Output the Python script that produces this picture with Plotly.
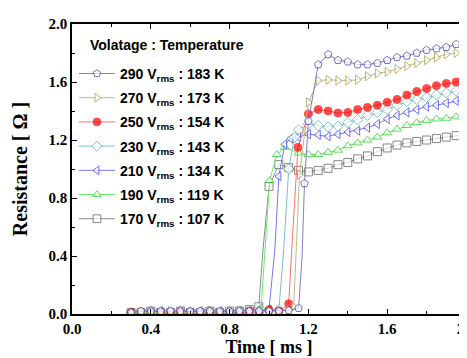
import plotly.graph_objects as go

# ---- data ----
labels = ["170 V<sub>rms</sub> : 107 K", "190 V<sub>rms</sub> : 119 K", "210 V<sub>rms</sub> : 134 K",
          "230 V<sub>rms</sub> : 143 K", "250 V<sub>rms</sub> : 154 K", "270 V<sub>rms</sub> : 173 K",
          "290 V<sub>rms</sub> : 183 K"]

t170 = [0.30, 0.35, 0.40, 0.45, 0.50, 0.55, 0.60, 0.65, 0.70, 0.75, 0.80, 0.85, 0.90,
        0.948, 0.97, 1.00, 1.05, 1.10, 1.15, 1.20, 1.25, 1.30, 1.35, 1.40, 1.45, 1.50, 1.55,
        1.60, 1.65, 1.70, 1.75, 1.80, 1.85, 1.90, 1.95, 2.00]
r170 = [0.01, 0.01, 0.02, 0.01, 0.01, 0.02, 0.01, 0.01, 0.02, 0.01, 0.02, 0.02, 0.03,
        0.05, 0.45, 0.88, 1.03, 1.01, 0.99, 0.98, 0.99, 1.005, 1.03, 1.045, 1.07, 1.09, 1.12,
        1.145, 1.165, 1.18, 1.19, 1.20, 1.21, 1.22, 1.23, 1.24]

t190 = [0.30, 0.35, 0.40, 0.45, 0.50, 0.55, 0.60, 0.65, 0.70, 0.75, 0.80, 0.85, 0.90,
        0.96, 0.98, 1.003, 1.04, 1.08, 1.15, 1.20, 1.25, 1.30, 1.35, 1.40, 1.45, 1.50, 1.55,
        1.60, 1.65, 1.70, 1.75, 1.80, 1.85, 1.90, 1.95, 2.00]
r190 = [0.01, 0.02, 0.01, 0.02, 0.01, 0.01, 0.02, 0.01, 0.02, 0.01, 0.02, 0.02, 0.02,
        0.04, 0.45, 0.92, 1.10, 1.15, 1.11, 1.10, 1.10, 1.115, 1.13, 1.16, 1.18, 1.20, 1.22,
        1.25, 1.275, 1.30, 1.32, 1.335, 1.345, 1.35, 1.36, 1.365]

t210 = [0.30, 0.35, 0.40, 0.45, 0.50, 0.55, 0.60, 0.65, 0.70, 0.75, 0.80, 0.85, 0.90, 0.95, 1.00,
        1.03, 1.05, 1.08, 1.11, 1.15, 1.20, 1.25, 1.30, 1.35, 1.40, 1.45, 1.50, 1.55,
        1.60, 1.65, 1.70, 1.75, 1.80, 1.85, 1.90, 1.95, 2.00]
r210 = [0.01, 0.01, 0.01, 0.02, 0.01, 0.01, 0.01, 0.02, 0.01, 0.02, 0.01, 0.02, 0.02, 0.02, 0.03,
        0.45, 0.95, 1.17, 1.21, 1.22, 1.24, 1.235, 1.225, 1.24, 1.255, 1.265, 1.285, 1.31,
        1.345, 1.37, 1.39, 1.41, 1.43, 1.44, 1.455, 1.47, 1.48]

t230 = [0.30, 0.35, 0.40, 0.45, 0.50, 0.55, 0.60, 0.65, 0.70, 0.75, 0.80, 0.85, 0.90, 0.95, 1.00, 1.05,
        1.075, 1.10, 1.13, 1.15, 1.20, 1.25, 1.30, 1.35, 1.40, 1.45, 1.50, 1.55,
        1.60, 1.65, 1.70, 1.75, 1.80, 1.85, 1.90, 1.95, 2.00]
r230 = [0.01, 0.01, 0.02, 0.01, 0.01, 0.02, 0.01, 0.01, 0.02, 0.01, 0.01, 0.02, 0.01, 0.02, 0.02, 0.03,
        0.45, 1.00, 1.22, 1.27, 1.31, 1.30, 1.29, 1.295, 1.32, 1.34, 1.37, 1.39,
        1.41, 1.44, 1.465, 1.48, 1.495, 1.51, 1.525, 1.54, 1.55]

t250 = [0.30, 0.35, 0.40, 0.45, 0.50, 0.55, 0.60, 0.65, 0.70, 0.75, 0.80, 0.85, 0.90, 0.95, 1.00, 1.05,
        1.10, 1.12, 1.147, 1.20, 1.25, 1.30, 1.35, 1.40, 1.45, 1.50, 1.55,
        1.60, 1.65, 1.70, 1.75, 1.80, 1.85, 1.90, 1.95, 2.00]
r250 = [0.01, 0.00, 0.01, 0.01, 0.00, 0.01, 0.01, 0.00, 0.01, 0.01, 0.01, 0.00, 0.02, 0.01, 0.03, 0.02,
        0.07, 0.55, 1.15, 1.38, 1.41, 1.40, 1.386, 1.39, 1.41, 1.425, 1.44,
        1.46, 1.48, 1.51, 1.535, 1.555, 1.575, 1.59, 1.60, 1.61]

t270 = [0.30, 0.35, 0.40, 0.45, 0.50, 0.55, 0.60, 0.65, 0.70, 0.75, 0.80, 0.85, 0.90, 0.95, 1.00, 1.05, 1.10,
        1.125, 1.14, 1.155, 1.20, 1.25, 1.30, 1.35, 1.40, 1.45, 1.50, 1.55,
        1.60, 1.65, 1.70, 1.75, 1.80, 1.85, 1.90, 1.95, 2.00]
r270 = [0.01, 0.01, 0.01, 0.01, 0.02, 0.01, 0.01, 0.01, 0.02, 0.01, 0.01, 0.02, 0.02, 0.02, 0.02, 0.02, 0.03,
        0.05, 0.50, 0.96, 1.46, 1.61, 1.615, 1.61, 1.61, 1.615, 1.64, 1.66,
        1.67, 1.69, 1.71, 1.73, 1.75, 1.77, 1.79, 1.80, 1.81]

t290 = [0.30, 0.35, 0.40, 0.45, 0.50, 0.55, 0.60, 0.65, 0.70, 0.75, 0.80, 0.85, 0.90, 0.95, 1.00, 1.05, 1.10,
        1.15, 1.168, 1.18, 1.20, 1.25, 1.30, 1.35, 1.40, 1.45, 1.50, 1.55,
        1.60, 1.65, 1.70, 1.75, 1.80, 1.85, 1.90, 1.95, 2.00]
r290 = [0.01, 0.02, 0.02, 0.02, 0.02, 0.02, 0.02, 0.02, 0.02, 0.02, 0.02, 0.02, 0.02, 0.02, 0.02, 0.02, 0.025,
        0.04, 0.40, 0.90, 1.33, 1.72, 1.79, 1.75, 1.74, 1.72, 1.72, 1.73,
        1.75, 1.77, 1.78, 1.80, 1.82, 1.83, 1.84, 1.86, 1.86]

x_ticks = [0.0, 0.4, 0.8, 1.2, 1.6, 2.0]
y_ticks = [0.0, 0.4, 0.8, 1.2, 1.6, 2.0]

# ---- styles ----
series = [
    (t170, r170, "square",         "#555555", "#8a8a8a", "white"),
    (t190, r190, "triangle-up",    "#22cc22", "#66ee66", "white"),
    (t210, r210, "triangle-left",  "#3333ee", "#7777ee", "white"),
    (t230, r230, "diamond",        "#55a5a5", "#80c0c0", "white"),
    (t250, r250, "circle",         "#ff0000", "#ff7070", "#ff0000"),
    (t270, r270, "triangle-right", "#9a9a40", "#bcbc80", "white"),
    (t290, r290, "pentagon",       "#3a3aa8", "#8080cc", "white"),
]

fig = go.Figure()
n = len(series)
for i, ((t, r, sym, mcol, lcol, fill), name) in enumerate(zip(series, labels)):
    sizes = [0 if 0.1 < v < 0.85 else 8 for v in r]
    fig.add_trace(go.Scatter(
        x=t, y=r, mode="lines+markers", name=name, legendgroup=name,
        legendrank=1000 + (n - i),
        line=dict(color=lcol, width=1),
        marker=dict(symbol=sym, size=sizes, color=fill, line=dict(color=mcol, width=1)),
    ))

tickfont = dict(family="Liberation Serif", size=15, color="black", weight="bold")

fig.update_layout(
    width=467, height=358,
    margin=dict(l=64, r=9, t=16, b=52),
    paper_bgcolor="white", plot_bgcolor="white",
    showlegend=True,
    legend=dict(
        x=0.005, y=0.883, xanchor="left", yanchor="top",
        traceorder="grouped", tracegroupgap=3,
        font=dict(family="Liberation Sans", size=14, color="black", weight="bold"),
        bgcolor="rgba(0,0,0,0)", itemwidth=36,
    ),
    xaxis=dict(
        range=[0, 2], tickvals=x_ticks, ticktext=[f"{v:.1f}" for v in x_ticks],
        ticks="inside", ticklen=5, tickwidth=1, tickcolor="black",
        minor=dict(dtick=0.2, ticks="inside", ticklen=3, tickcolor="black"),
        showline=True, linecolor="black", linewidth=1.5, mirror="allticks",
        showgrid=False, zeroline=False, tickfont=tickfont, automargin=False,
        ticklabeloverflow="allow",
        title=dict(text="Time [ ms ]", standoff=3,
                   font=dict(family="Liberation Serif", size=18, color="black", weight="bold")),
    ),
    yaxis=dict(
        range=[0, 2], tickvals=y_ticks, ticktext=[f"{v:.1f}" for v in y_ticks],
        ticks="inside", ticklen=5, tickwidth=1, tickcolor="black",
        minor=dict(dtick=0.2, ticks="inside", ticklen=3, tickcolor="black"),
        showline=True, linecolor="black", linewidth=1.5, mirror="allticks",
        showgrid=False, zeroline=False, tickfont=tickfont, automargin=False,
        ticklabeloverflow="allow",
        title=dict(text="Resistance [ Ω ]", standoff=16,
                   font=dict(family="Liberation Serif", size=20, color="black", weight="bold")),
    ),
    annotations=[dict(
        text="Volatage : Temperature", xref="paper", yref="paper",
        x=0.041, y=0.928, xanchor="left", yanchor="middle", showarrow=False,
        font=dict(family="Liberation Sans", size=14, color="black", weight="bold"),
    )],
)

fig.write_html("out.html")
